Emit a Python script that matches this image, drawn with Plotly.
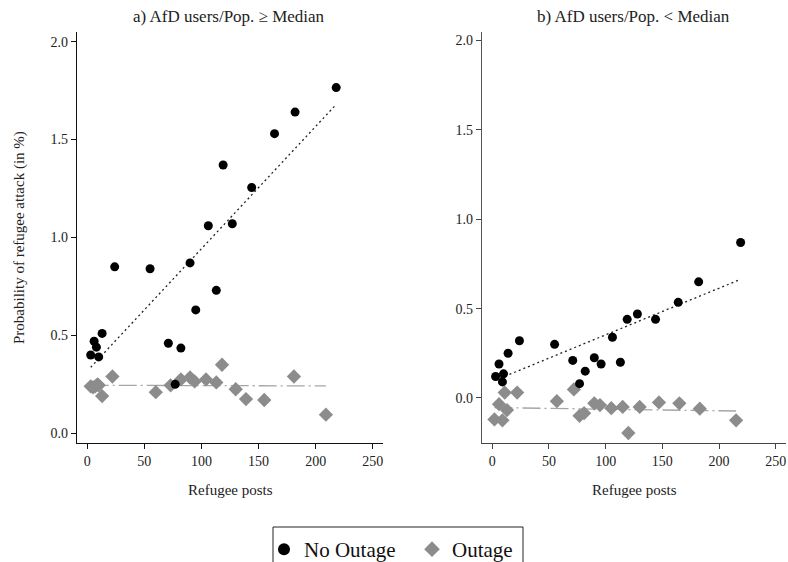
import plotly.graph_objects as go

# ---------------- data ----------------
# Panel a) AfD users/Pop. >= Median
a_no_x = [3, 6, 8, 10, 13, 24, 55, 71, 77, 82, 90, 95, 106, 113, 119, 127, 144, 164, 182, 218]
a_no_y = [0.40, 0.47, 0.44, 0.39, 0.51, 0.85, 0.84, 0.46, 0.25, 0.435, 0.87, 0.63, 1.06, 0.73, 1.37, 1.07, 1.255, 1.53, 1.64, 1.765]
a_out_x = [3, 5, 7, 9, 10, 13, 22, 60, 73, 82, 90, 94, 104, 113, 118, 130, 139, 155, 181, 209]
a_out_y = [0.24, 0.235, 0.24, 0.25, 0.245, 0.19, 0.29, 0.21, 0.245, 0.275, 0.285, 0.265, 0.275, 0.26, 0.35, 0.225, 0.175, 0.17, 0.29, 0.095]
a_fit_no_x = [3, 218]
a_fit_no_y = [0.337, 1.679]
a_fit_out_x = [3, 209]
a_fit_out_y = [0.245, 0.242]

# Panel b) AfD users/Pop. < Median
b_no_x = [3, 6, 9, 10, 14, 24, 55, 71, 77, 82, 90, 96, 106, 113, 119, 128, 144, 164, 182, 219]
b_no_y = [0.12, 0.19, 0.09, 0.135, 0.25, 0.32, 0.30, 0.21, 0.08, 0.15, 0.225, 0.19, 0.34, 0.20, 0.44, 0.47, 0.44, 0.535, 0.65, 0.87]
b_out_x = [2, 6, 9, 11, 13, 22, 57, 72, 77, 81, 90, 95, 105, 115, 120, 130, 147, 165, 183, 215]
b_out_y = [-0.12, -0.035, -0.125, 0.03, -0.068, 0.03, -0.018, 0.048, -0.10, -0.085, -0.03, -0.04, -0.057, -0.05, -0.196, -0.05, -0.025, -0.03, -0.06, -0.125]
b_fit_no_x = [3, 219]
b_fit_no_y = [0.100, 0.664]
b_fit_out_x = [2, 215]
b_fit_out_y = [-0.054, -0.073]

titles = ["a) AfD users/Pop. \u2265 Median", "b) AfD users/Pop. < Median"]
x_title = "Refugee posts"
y_title = "Probability of refugee attack (in %)"
legend_names = ["No Outage", "Outage"]
x_ticks = [0, 50, 100, 150, 200, 250]
y_ticks = [0.0, 0.5, 1.0, 1.5, 2.0]

# ---------------- styles ----------------
FONT = "Liberation Serif"
BLACK = "#000000"
GRAY = "#8c8c8c"
LGRAY = "#a6a6a6"
W, H = 788, 562

fig = go.Figure()

panels = [
    (a_no_x, a_no_y, a_out_x, a_out_y, a_fit_no_x, a_fit_no_y, a_fit_out_x, a_fit_out_y, "x", "y"),
    (b_no_x, b_no_y, b_out_x, b_out_y, b_fit_no_x, b_fit_no_y, b_fit_out_x, b_fit_out_y, "x2", "y2"),
]

for i, (nx, ny, ox, oy, fnx, fny, fox, foy, xa, ya) in enumerate(panels):
    fig.add_trace(go.Scatter(x=fox, y=foy, mode="lines", xaxis=xa, yaxis=ya,
                             line=dict(color=LGRAY, width=1.3, dash="18px,4px,2px,4px"),
                             showlegend=False, hoverinfo="skip"))
    fig.add_trace(go.Scatter(x=fnx, y=fny, mode="lines", xaxis=xa, yaxis=ya,
                             line=dict(color="#222222", width=1.3, dash="2px,3px"),
                             showlegend=False, hoverinfo="skip"))
    fig.add_trace(go.Scatter(x=ox, y=oy, mode="markers", xaxis=xa, yaxis=ya,
                             name=legend_names[1], showlegend=(i == 0), legendrank=2,
                             marker=dict(symbol="diamond", size=11, color=GRAY, line=dict(width=0))))
    fig.add_trace(go.Scatter(x=nx, y=ny, mode="markers", xaxis=xa, yaxis=ya,
                             name=legend_names[0], showlegend=(i == 0), legendrank=1,
                             marker=dict(symbol="circle", size=9, color=BLACK, line=dict(width=0))))

ydom = [(H - 443) / H, (H - 32) / H]
common_x = dict(range=[-9, 259], tickvals=x_ticks, ticks="outside", ticklen=5, tickwidth=1,
                showline=True, linewidth=1.3, showgrid=False, zeroline=False,
                tickfont=dict(family=FONT, size=14, color="#222"))
common_y = dict(tickvals=y_ticks, tickformat=".1f", ticks="outside", ticklen=5, tickwidth=1,
                showline=True, linewidth=1.3, showgrid=False, zeroline=False,
                tickfont=dict(family=FONT, size=14, color="#222"))

fig.update_layout(
    width=W, height=H,
    margin=dict(l=0, r=0, t=0, b=0, autoexpand=False),
    paper_bgcolor="white", plot_bgcolor="white",
    font=dict(family=FONT, color="#222"),
    xaxis=dict(domain=[77 / W, 383 / W], anchor="y", linecolor="#111", tickcolor="#111", **common_x),
    yaxis=dict(domain=ydom, anchor="x", range=[-0.0495, 2.049], linecolor="#111", tickcolor="#111", **common_y),
    xaxis2=dict(domain=[482 / W, 786 / W], anchor="y2", linecolor="#444", tickcolor="#444", **common_x),
    yaxis2=dict(domain=ydom, anchor="x2", range=[-0.252, 2.048], linecolor="#555", tickcolor="#444", **common_y),
    legend=dict(orientation="h", x=264 / W, xanchor="left", y=(H - 529) / H, yanchor="top",
                borderwidth=0, bgcolor="rgba(0,0,0,0)",
                font=dict(family=FONT, size=21, color="#111"),
                entrywidth=103, entrywidthmode="pixels",
                itemsizing="constant", traceorder="normal"),
    showlegend=True,
)

# legend frame (bottom edge runs off the picture, as in the reference)
fig.add_shape(type="rect", xref="paper", yref="paper",
              x0=273 / W, x1=523 / W, y0=(H - 580) / H, y1=(H - 527) / H,
              line=dict(color="#222", width=1), fillcolor="rgba(0,0,0,0)", layer="below")

ann = [
    dict(text=titles[0], x=229 / W, y=(H - 17) / H, font=dict(size=17)),
    dict(text=titles[1], x=633 / W, y=(H - 17) / H, font=dict(size=17)),
    dict(text=x_title, x=230 / W, y=(H - 490) / H, font=dict(size=15)),
    dict(text=x_title, x=634 / W, y=(H - 490) / H, font=dict(size=15)),
    dict(text=y_title, x=20 / W, y=(H - 238) / H, textangle=-90, font=dict(size=15)),
]
for a in ann:
    f = dict(family=FONT, color="#222")
    f.update(a.pop("font"))
    fig.add_annotation(xref="paper", yref="paper", showarrow=False, xanchor="center", yanchor="middle",
                       font=f, **a)

fig.write_html("out.html", config={"displayModeBar": False},
               post_script="document.body.style.margin='0px';document.body.style.overflow='hidden';")
